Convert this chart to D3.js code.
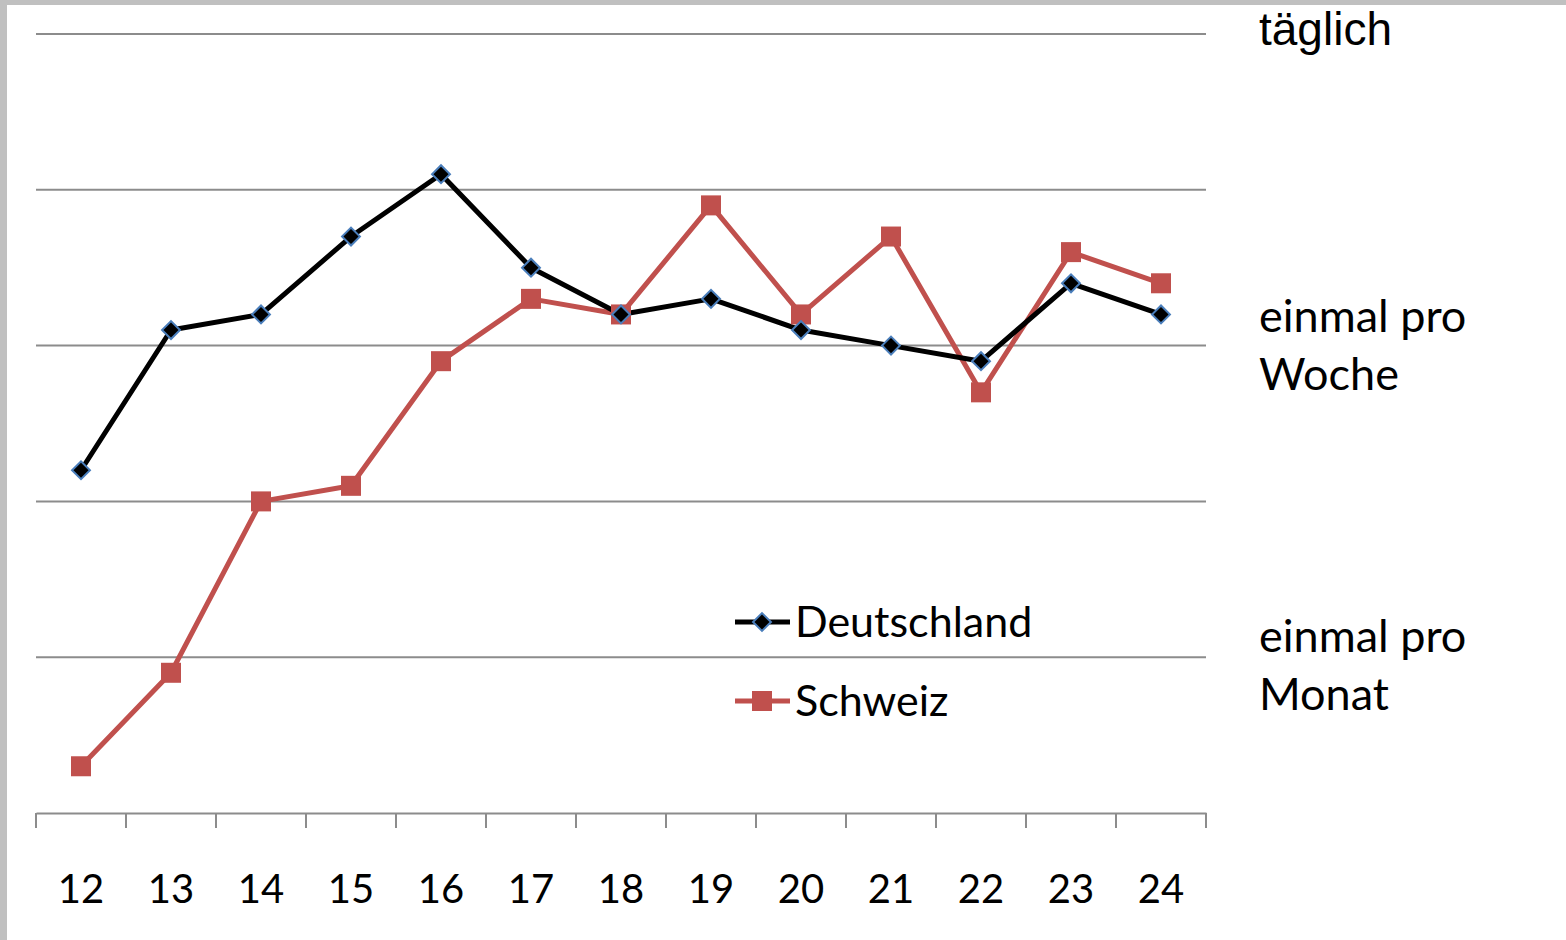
<!DOCTYPE html>
<html>
<head>
<meta charset="utf-8">
<script src="https://cdn.jsdelivr.net/npm/d3@7"></script>
<style>
  body { margin: 0; background: #fff; }
  .tick text { font-family: Lato, "Open Sans", sans-serif; }
</style>
</head>
<body>
<div class="chart"></div>
<script>
// Alter (Jahre) und Häufigkeit, 0 = nie ... 5 = täglich
var ages = ["12", "13", "14", "15", "16", "17", "18", "19", "20", "21", "22", "23", "24"];
var deutschland = [2.2, 3.1, 3.2, 3.7, 4.1, 3.5, 3.2, 3.3, 3.1, 3.0, 2.9, 3.4, 3.2];
var schweiz = [0.3, 0.9, 2.0, 2.1, 2.9, 3.3, 3.2, 3.9, 3.2, 3.7, 2.7, 3.6, 3.4];
var gridValues = [1, 2, 3, 4, 5];
var sideLabels = [
  { v: 5, lines: ["täglich"] },
  { v: 3, lines: ["einmal pro", "Woche"] },
  { v: 1, lines: ["einmal pro", "Monat"] }
];

var svgWidth = 1566;
var svgHeight = 940;
var margin = { top: 34, right: 360, bottom: 127, left: 36 };
var width = svgWidth - margin.left - margin.right;
var height = svgHeight - margin.top - margin.bottom;

var svg = d3.select(".chart")
  .append("svg")
  .attr("width", svgWidth)
  .attr("height", svgHeight);

// grauer Rahmen oben und links
svg.append("rect").attr("x", 0).attr("y", 0).attr("width", svgWidth).attr("height", 5).attr("fill", "#c0c0c0");
svg.append("rect").attr("x", 0).attr("y", 0).attr("width", 7).attr("height", svgHeight).attr("fill", "#c0c0c0");

var chartGroup = svg.append("g")
  .attr("transform", `translate(${margin.left}, ${margin.top})`);

var x = d3.scaleBand().domain(ages).range([0, width]);
var y = d3.scaleLinear().domain([0, 5]).range([height, 0]);

// Gitterlinien
chartGroup.selectAll(".grid")
  .data(gridValues)
  .enter()
  .append("line")
  .attr("x1", 0)
  .attr("x2", width)
  .attr("y1", d => y(d))
  .attr("y2", d => y(d))
  .attr("stroke", "#8c8c8c")
  .attr("stroke-width", 2);

// x-Achse
var xAxis = chartGroup.append("g")
  .attr("transform", `translate(0, ${height})`)
  .call(d3.axisBottom(x).tickSize(0).tickPadding(62));
xAxis.select(".domain").attr("stroke", "#8c8c8c").attr("stroke-width", 2);
xAxis.selectAll("text").attr("font-size", "40px").attr("fill", "#000");

// Teilstriche an den Bandgrenzen
chartGroup.selectAll(".xtick")
  .data(ages.concat(["end"]))
  .enter()
  .append("line")
  .attr("x1", (d, i) => i * x.step())
  .attr("x2", (d, i) => i * x.step())
  .attr("y1", height)
  .attr("y2", height + 15)
  .attr("stroke", "#8c8c8c")
  .attr("stroke-width", 2);

var cx = d => x(d) + x.bandwidth() / 2;

var line = d3.line()
  .x((d, i) => cx(ages[i]))
  .y(d => y(d));

// Schweiz
chartGroup.append("path")
  .datum(schweiz)
  .attr("fill", "none")
  .attr("stroke", "#c0504d")
  .attr("stroke-width", 5)
  .attr("stroke-linejoin", "round")
  .attr("d", line);

// Deutschland
chartGroup.append("path")
  .datum(deutschland)
  .attr("fill", "none")
  .attr("stroke", "#000")
  .attr("stroke-width", 5)
  .attr("stroke-linejoin", "round")
  .attr("d", line);

chartGroup.selectAll(".sq")
  .data(schweiz)
  .enter()
  .append("rect")
  .attr("x", (d, i) => cx(ages[i]) - 10)
  .attr("y", d => y(d) - 10)
  .attr("width", 20)
  .attr("height", 20)
  .attr("fill", "#c0504d");

var diamond = d3.symbol().type(d3.symbolSquare).size(160);
chartGroup.selectAll(".dia")
  .data(deutschland)
  .enter()
  .append("path")
  .attr("d", diamond)
  .attr("transform", (d, i) => `translate(${cx(ages[i])}, ${y(d)}) rotate(45)`)
  .attr("fill", "#000")
  .attr("stroke", "#4a7ebb")
  .attr("stroke-width", 2);

// Legende
var legend = svg.append("g");
var legendItems = [
  { name: "Deutschland", color: "#000", y: 622 },
  { name: "Schweiz", color: "#c0504d", y: 701 }
];
legendItems.forEach(function (item, k) {
  legend.append("line")
    .attr("x1", 735).attr("x2", 790)
    .attr("y1", item.y).attr("y2", item.y)
    .attr("stroke", item.color)
    .attr("stroke-width", 5);
  if (k === 0) {
    legend.append("path")
      .attr("d", diamond)
      .attr("transform", `translate(762, ${item.y}) rotate(45)`)
      .attr("fill", "#000")
      .attr("stroke", "#4a7ebb")
      .attr("stroke-width", 2);
  } else {
    legend.append("rect")
      .attr("x", 752).attr("y", item.y - 10)
      .attr("width", 20).attr("height", 20)
      .attr("fill", item.color);
  }
  legend.append("text")
    .attr("x", 795)
    .attr("y", item.y + 15)
    .attr("font-family", "Lato, 'Open Sans', sans-serif")
    .attr("font-size", "43px")
    .attr("fill", "#000")
    .text(item.name);
});

// Beschriftungen rechts
sideLabels.forEach(function (lab) {
  var t = svg.append("text")
    .attr("x", 1259)
    .attr("fill", "#000");
  if (lab.lines.length === 1) {
    t.attr("y", margin.top + y(lab.v) + 11)
      .attr("font-family", "'Liberation Sans', Arial, sans-serif")
      .attr("font-size", "46px")
      .text(lab.lines[0]);
  } else {
    var shift = lab.v === 1 ? -5 : -14;
    t.attr("font-family", "Lato, 'Open Sans', sans-serif")
      .attr("font-size", "45px");
    lab.lines.forEach(function (s, j) {
      t.append("tspan")
        .attr("x", 1259)
        .attr("y", margin.top + y(lab.v) + shift + j * 58)
        .text(s);
    });
  }
});
</script>
</body>
</html>
